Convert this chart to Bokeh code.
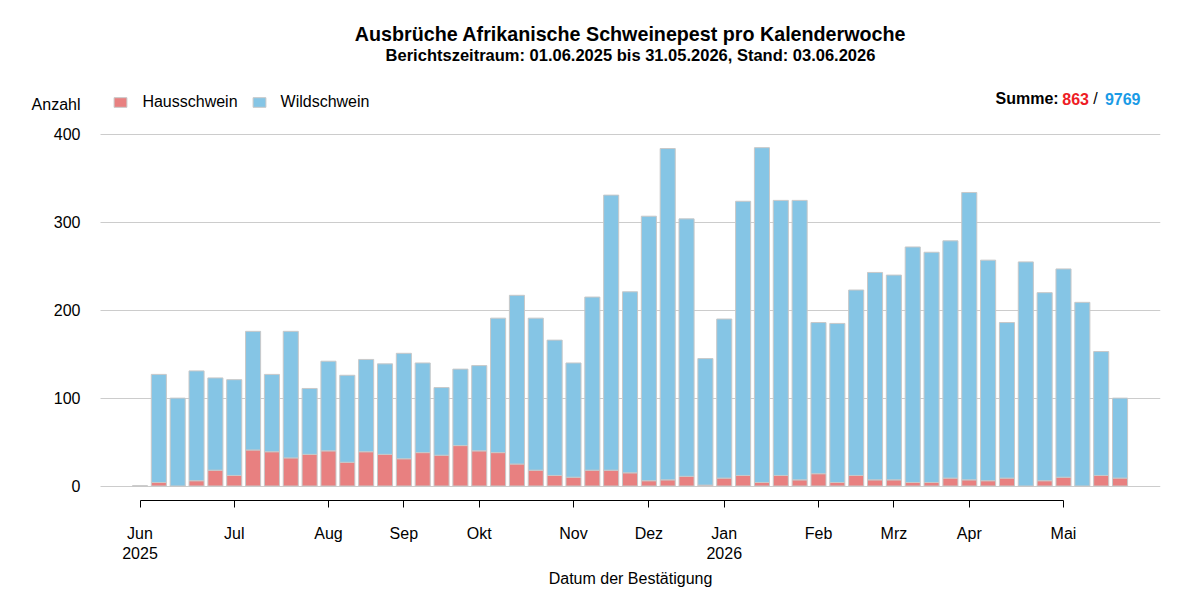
from bokeh.plotting import figure
from bokeh.models import ColumnDataSource, FixedTicker, Range1d, Label, Legend, LegendItem
from bokeh.embed import file_html
from bokeh.resources import INLINE

# ---- data (ISO calendar weeks, 22/2025 .. 22/2026) ----
weeks = list(range(53))
haus = [0, 4, 0, 6, 18, 12, 41, 39, 32, 36, 40, 27, 39, 36, 31, 38, 35, 46, 40, 38,
        25, 18, 12, 10, 18, 18, 15, 6, 7, 11, 1, 9, 12, 4, 12, 7, 14, 4, 12, 7,
        7, 4, 4, 9, 7, 6, 9, 0, 6, 10, 0, 12, 9]
wild = [0, 123, 100, 125, 105, 109, 135, 88, 144, 75, 102, 99, 105, 103, 120, 102, 77, 87, 97, 153,
        192, 173, 154, 130, 197, 313, 206, 301, 377, 293, 144, 181, 312, 381, 313, 318, 172, 181, 211, 236,
        233, 268, 262, 270, 327, 251, 177, 255, 214, 237, 209, 141, 91]
month_ticks = [0, 5, 10, 14, 18, 23, 27, 31, 36, 40, 44, 49]
month_labels = ["Jun\n2025", "Jul", "Aug", "Sep", "Okt", "Nov", "Dez", "Jan\n2026",
                "Feb", "Mrz", "Apr", "Mai"]
y_ticks = [0, 100, 200, 300, 400]

RED = "#e88080"
BLUE = "#85c5e5"
EDGE = "#c8c8c8"
FONT = "Liberation Sans"

W, H = 1200, 600
L, R, T, B = 20, 40, 0, 0
PLOT_LEFT = 100          # where the grid lines start
AXIS_Y = 500             # where the x axis line sits
X0PX, XSTEP = 139.5, 18.847
Y0PX, YSCALE = 485.5, 0.8788


def dx(px):
    return (px - X0PX) / XSTEP


def dy(py):
    return (Y0PX - py) / YSCALE


p = figure(width=W, height=H, title=None,
           x_range=Range1d(dx(L), dx(W - R)), y_range=Range1d(dy(H - B), dy(T)),
           output_backend="svg", toolbar_location=None,
           min_border_left=L, min_border_right=R, min_border_top=T, min_border_bottom=B)
p.outline_line_color = None
p.background_fill_color = "white"

src = ColumnDataSource(dict(week=weeks, haus=haus, wild=wild))
rs = p.vbar_stack(["haus", "wild"], x="week", width=0.8, source=src,
                  fill_color=[RED, BLUE], line_color=EDGE, line_width=1)

# axes
xa = p.xaxis[0]
xa.ticker = FixedTicker(ticks=month_ticks)
xa.major_label_overrides = {t: lab for t, lab in zip(month_ticks, month_labels)}
xa.bounds = (month_ticks[0], month_ticks[-1])
xa.fixed_location = dy(AXIS_Y)
xa.axis_line_color = "black"
xa.major_tick_line_color = "black"
xa.major_tick_out = 7
xa.major_tick_in = 0
xa.minor_tick_line_color = None
xa.major_label_standoff = 17
xa.major_label_text_font = FONT
xa.major_label_text_font_size = "16px"
xa.major_label_text_color = "black"

ya = p.yaxis[0]
ya.ticker = FixedTicker(ticks=y_ticks)
ya.fixed_location = dx(PLOT_LEFT)
ya.axis_line_color = None
ya.major_tick_line_color = None
ya.minor_tick_line_color = None
ya.major_tick_out = 0
ya.major_tick_in = 0
ya.major_label_standoff = 20
ya.major_label_text_font = FONT
ya.major_label_text_font_size = "16px"
ya.major_label_text_color = "black"

p.xgrid.visible = False
p.ygrid.grid_line_color = "#cccccc"
p.ygrid.grid_line_width = 1
p.ygrid.cross_bounds = (dx(PLOT_LEFT), dx(W - R))

# legend
legend = Legend(items=[LegendItem(label="Hausschwein", renderers=[rs[0]]),
                       LegendItem(label="Wildschwein", renderers=[rs[1]])],
                orientation="horizontal", location=(112.4 - L, H - 111.5),
                padding=0, margin=0, spacing=13, label_standoff=14,
                glyph_width=16, glyph_height=12, label_height=20,
                border_line_color=None, background_fill_alpha=0,
                label_text_font=FONT, label_text_font_size="16px",
                label_text_color="black")
p.add_layout(legend, "center")


# texts
def lab(x, y, text, size, style="normal", color="black", align="left"):
    p.add_layout(Label(x=dx(x), y=dy(y), text=text, text_font=FONT,
                       text_font_size=size, text_font_style=style,
                       text_color=color, text_align=align, text_baseline="middle"))


lab(630, 33, "Ausbrüche Afrikanische Schweinepest pro Kalenderwoche", "19.7px", "bold", align="center")
lab(630, 54, "Berichtszeitraum: 01.06.2025 bis 31.05.2026, Stand: 03.06.2026", "16.5px", "bold", align="center")
lab(80, 104, "Anzahl", "16px", align="right")
lab(630, 578, "Datum der Bestätigung", "16px", align="center")
lab(995, 98, "Summe:", "16px", "bold")
lab(1088.5, 98, str(sum(haus)), "16px", "bold", color="#ee1c25", align="right")
lab(1095, 98, "/", "16px", "normal", align="center")
lab(1140, 98, str(sum(wild)), "16px", "bold", color="#1a9be6", align="right")

open("out.html", "w").write(file_html(p, INLINE))
